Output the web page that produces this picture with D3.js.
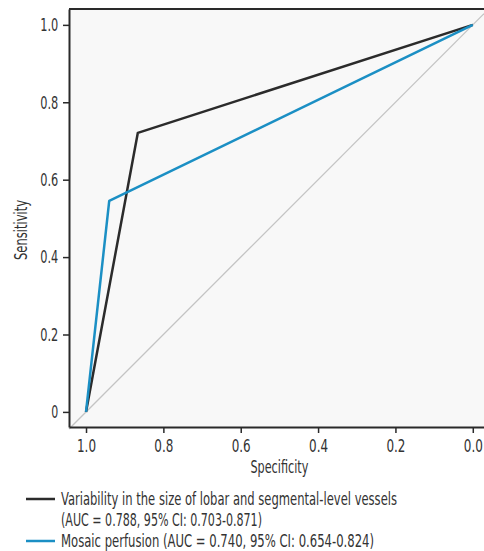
<!DOCTYPE html>
<html>
<head>
<meta charset="utf-8">
<script src="https://cdn.jsdelivr.net/npm/d3@7"></script>
<style>
  body { margin: 0; background: #fff; }
  text { font-family: "DejaVu Sans", sans-serif; font-stretch: condensed; fill: #333; }
</style>
</head>
<body>
<div id="chart"></div>
<script>
// ROC data: [specificity, sensitivity]
const vesselRoc = [[1.0, 0.0], [0.866, 0.721], [0.0, 1.0]];
const mosaicRoc = [[1.0, 0.0], [0.940, 0.545], [0.0, 1.0]];
const xTicks = [1.0, 0.8, 0.6, 0.4, 0.2, 0.0];
const yTicks = [0, 0.2, 0.4, 0.6, 0.8, 1.0];
const seriesNames = ["Variability in the size of lobar and segmental-level vessels", "Mosaic perfusion"];
const seriesNotes = ["(AUC = 0.788, 95% CI: 0.703-0.871)", "(AUC = 0.740, 95% CI: 0.654-0.824)"];
const seriesColors = ["#2b2b2b", "#1b8fc4"];

const W = 484, H = 551;
const plot = { left: 69, top: 9, right: 484, bottom: 427 };

const svg = d3.select("#chart").append("svg")
  .attr("width", W).attr("height", H);

const x = d3.scaleLinear().domain([1.044, -0.029]).range([plot.left, plot.right]);
const y = d3.scaleLinear().domain([-0.039, 1.041]).range([plot.bottom, plot.top]);

// squeeze text to the narrow look of the original
function fit(sel, w) {
  sel.attr("textLength", w).attr("lengthAdjust", "spacingAndGlyphs");
}

// background
svg.append("rect")
  .attr("x", plot.left).attr("y", plot.top)
  .attr("width", plot.right - plot.left).attr("height", plot.bottom - plot.top)
  .attr("fill", "#f8f8f8");

// diagonal reference
svg.append("line")
  .attr("x1", x(1.044)).attr("y1", y(-0.044))
  .attr("x2", x(-0.029)).attr("y2", y(1.029))
  .attr("stroke", "#c4c4c4").attr("stroke-width", 1.3);

// top frame
svg.append("line")
  .attr("x1", plot.left).attr("x2", plot.right)
  .attr("y1", plot.top).attr("y2", plot.top)
  .attr("stroke", "#2a2a2a").attr("stroke-width", 2);

// axes
const xAxisG = svg.append("g")
  .attr("transform", `translate(0,${plot.bottom})`)
  .call(d3.axisBottom(x).tickValues(xTicks).tickFormat(d3.format(".1f")).tickSize(6).tickSizeOuter(0));
const yAxisG = svg.append("g")
  .attr("transform", `translate(${plot.left},0)`)
  .call(d3.axisLeft(y).tickValues(yTicks).tickFormat(d => d === 0 ? "0" : d3.format(".1f")(d)).tickSize(6).tickSizeOuter(0));

[xAxisG, yAxisG].forEach(g => {
  g.select("path.domain").attr("stroke", "#2a2a2a").attr("stroke-width", 2);
  g.selectAll(".tick line").attr("stroke", "#2a2a2a").attr("stroke-width", 1.5);
  g.selectAll("text")
    .style("font-family", "'DejaVu Sans', sans-serif")
    .style("font-size", "18px")
    .attr("fill", "#333");
});
xAxisG.selectAll("text").attr("dy", "0.9em").each(function () { fit(d3.select(this), 19); });
yAxisG.selectAll("text").attr("dx", "-0.1em")
  .each(function (d) { fit(d3.select(this), d === 0 ? 7 : 18); });

// axis titles
fit(svg.append("text")
  .attr("x", x(0.5)).attr("y", 473)
  .attr("text-anchor", "middle")
  .style("font-size", "17px")
  .text("Specificity"), 58);
fit(svg.append("text")
  .attr("transform", `translate(27,${y(0.47)}) rotate(-90)`)
  .attr("text-anchor", "middle")
  .style("font-size", "17px")
  .text("Sensitivity"), 60);

// ROC curves
const line = d3.line().x(d => x(d[0])).y(d => y(d[1]));
[vesselRoc, mosaicRoc].forEach((data, i) => {
  svg.append("path")
    .datum(data)
    .attr("fill", "none")
    .attr("stroke", seriesColors[i])
    .attr("stroke-width", 2.5)
    .attr("stroke-linejoin", "round")
    .attr("d", line);
});

// legend
const legendRows = [
  { key: 0, text: seriesNames[0], y: 499, w: 336, swatch: true },
  { key: 0, text: seriesNotes[0], y: 520, w: 201, swatch: false },
  { key: 1, text: seriesNames[1] + " " + seriesNotes[1], y: 541, w: 313, swatch: true }
];
const legend = svg.append("g");
legendRows.forEach(r => {
  if (r.swatch) {
    legend.append("line")
      .attr("x1", 26).attr("x2", 55)
      .attr("y1", r.y).attr("y2", r.y)
      .attr("stroke", seriesColors[r.key]).attr("stroke-width", 2.5);
  }
  fit(legend.append("text")
    .attr("x", 61).attr("y", r.y)
    .attr("dy", "0.35em")
    .style("font-size", "17px")
    .text(r.text), r.w);
});
</script>
</body>
</html>
